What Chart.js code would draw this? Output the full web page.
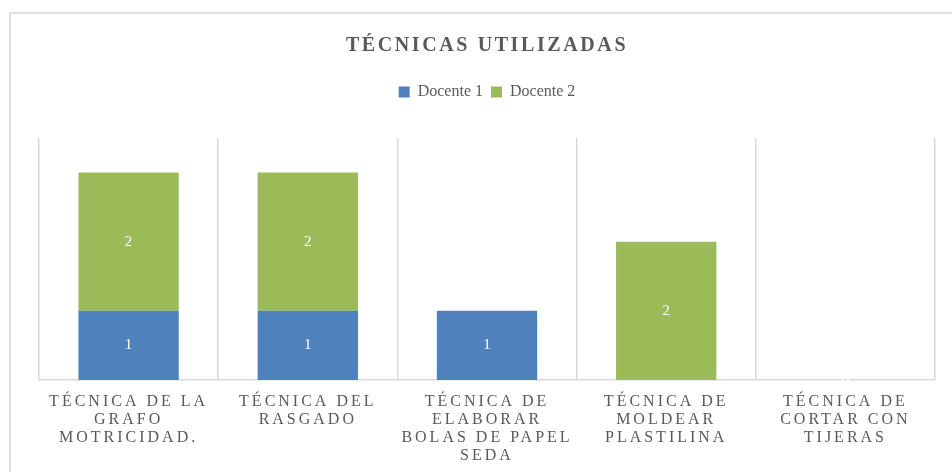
<!DOCTYPE html>
<html>
<head>
<meta charset="utf-8">
<script src="https://cdn.jsdelivr.net/npm/chart.js@4/dist/chart.umd.min.js"></script>
<style>
  body { margin: 0; background: #fff; }
  .wrap { position: relative; width: 952px; height: 472px; overflow: hidden; }
  .frame { position: absolute; left: 9px; top: 12px; width: 1000px; height: 1000px; border: 2px solid #dedede; box-sizing: border-box; }
  canvas { position: absolute; left: 0; top: 0; }
</style>
</head>
<body>
<div class="wrap">
  <div class="frame"></div>
  <canvas id="tecnicasChart" width="952" height="472"></canvas>
</div>
<script>
const titulo = 'TÉCNICAS UTILIZADAS';
const categorias = [
    ['TÉCNICA DE LA', 'GRAFO', 'MOTRICIDAD.'],
    ['TÉCNICA DEL', 'RASGADO'],
    ['TÉCNICA DE', 'ELABORAR', 'BOLAS DE PAPEL', 'SEDA'],
    ['TÉCNICA DE', 'MOLDEAR', 'PLASTILINA'],
    ['TÉCNICA DE', 'CORTAR CON', 'TIJERAS']
];
const docente1 = [1, 1, 1, null, 0];
const docente2 = [2, 2, null, 2, 0];

const gris = '#595959';
const serif = '"Liberation Serif", "Times New Roman", serif';

// legend: leave a gap between legend and plot
const legendGap = {
    id: 'legendGap',
    beforeInit(chart) {
        const fit = chart.legend.fit;
        chart.legend.fit = function () {
            fit.call(this);
            this.height += 28;
        };
    }
};

// value labels, spaced axis text, title
const textos = {
    id: 'textos',
    beforeDraw(chart) {
        chart.ctx.letterSpacing = '0px';
    },
    afterDatasetsDraw(chart) {
        const ctx = chart.ctx;
        ctx.save();
        ctx.letterSpacing = '0px';
        ctx.font = '15px ' + serif;
        ctx.fillStyle = '#ffffff';
        ctx.textAlign = 'center';
        ctx.textBaseline = 'middle';
        chart.data.datasets.forEach(function (ds, i) {
            chart.getDatasetMeta(i).data.forEach(function (bar, j) {
                const v = ds.data[j];
                if (v === null || v === undefined) return;
                ctx.fillText(String(v), bar.x, (bar.y + bar.base) / 2);
            });
        });
        ctx.restore();
        // x tick labels are drawn after this (ticks.z = 1)
        ctx.letterSpacing = '3px';
    },
    afterDraw(chart) {
        const ctx = chart.ctx;
        const area = chart.chartArea;
        ctx.save();
        ctx.letterSpacing = '2.6px';
        ctx.font = 'bold 20px ' + serif;
        ctx.fillStyle = gris;
        ctx.textAlign = 'center';
        ctx.textBaseline = 'middle';
        ctx.fillText(titulo, (area.left + area.right) / 2, 46);
        ctx.restore();
        ctx.letterSpacing = '0px';
    }
};

document.addEventListener('DOMContentLoaded', function () {
    const ctx = document.getElementById('tecnicasChart').getContext('2d');
    new Chart(ctx, {
        type: 'bar',
        data: {
            labels: categorias,
            datasets: [{
                label: 'Docente 1',
                data: docente1,
                backgroundColor: '#4f81bd',
                barPercentage: 0.56,
                categoryPercentage: 1
            }, {
                label: 'Docente 2',
                data: docente2,
                backgroundColor: '#9bbb59',
                barPercentage: 0.56,
                categoryPercentage: 1
            }]
        },
        options: {
            responsive: false,
            animation: false,
            layout: { padding: { left: 39, right: 17, top: 76, bottom: 0 } },
            scales: {
                x: {
                    stacked: true,
                    grid: { color: '#d9d9d9', lineWidth: 1.5, drawTicks: false },
                    border: { color: '#d9d9d9', width: 1.5 },
                    ticks: {
                        z: 1,
                        color: gris,
                        font: { family: serif, size: 16, lineHeight: 1.125 },
                        padding: 13,
                        maxRotation: 0,
                        autoSkip: false
                    },
                    afterFit(scale) {
                        scale.height = 92;
                    }
                },
                y: {
                    stacked: true,
                    display: false,
                    min: 0,
                    max: 3.5
                }
            },
            plugins: {
                legend: {
                    position: 'top',
                    labels: {
                        color: gris,
                        font: { family: serif, size: 16 },
                        boxWidth: 11,
                        boxHeight: 11,
                        padding: 8
                    }
                },
                tooltip: { enabled: false }
            }
        },
        plugins: [legendGap, textos]
    });
});
</script>
</body>
</html>
